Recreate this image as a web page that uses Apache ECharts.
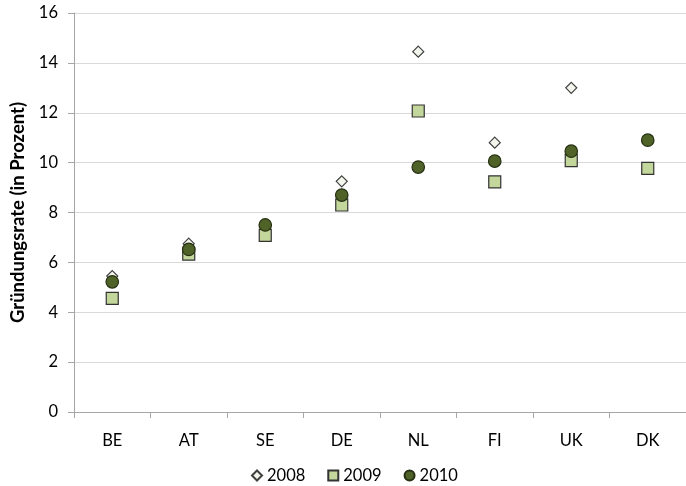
<!DOCTYPE html>
<html>
<head>
<meta charset="utf-8">
<script src="https://cdn.jsdelivr.net/npm/echarts@6/dist/echarts.min.js"></script>
<style>html,body{margin:0;padding:0;background:#fff}#c{width:686px;height:486px}</style>
</head>
<body>
<div id="c"></div>
<script>
const categories = ['BE','AT','SE','DE','NL','FI','UK','DK'];
const s2008 = [5.45, 6.75, 7.5, 9.25, 14.45, 10.8, 13.0, null];
const s2009 = [4.56, 6.33, 7.08, 8.3, 12.07, 9.23, 10.08, 9.77];
const s2010 = [5.22, 6.52, 7.5, 8.7, 9.82, 10.06, 10.46, 10.9];
const yTicks = {min: 0, max: 16, interval: 2};

const font = 'Lato, "Open Sans", sans-serif';
const chart = echarts.init(document.getElementById('c'));
chart.setOption({
  animation: false,
  textStyle: {fontFamily: font},
  grid: {left: 74, top: 13, bottom: 74, right: -6, containLabel: false},
  legend: {
    bottom: -3, left: 246, itemGap: 22, itemWidth: 10, itemHeight: 10,
    textStyle: {fontSize: 16.5, color: '#000', fontFamily: font},
    data: [
      {name: '2008', icon: 'diamond'},
      {name: '2009', icon: 'rect'},
      {name: '2010', icon: 'circle'}
    ]
  },
  xAxis: {
    type: 'category', data: categories, boundaryGap: true,
    axisLine: {lineStyle: {color: '#a6a6a6'}},
    axisTick: {show: true, length: 6, lineStyle: {color: '#a6a6a6'}},
    axisLabel: {fontSize: 16.5, color: '#000', margin: 20}
  },
  yAxis: {
    type: 'value', min: yTicks.min, max: yTicks.max, interval: yTicks.interval,
    name: 'Gründungsrate (in Prozent)', nameLocation: 'middle', nameGap: 44,
    nameTextStyle: {fontSize: 18.5, fontWeight: 'bold', color: '#000', fontFamily: font},
    axisLine: {show: true, lineStyle: {color: '#a6a6a6'}},
    axisTick: {show: true, length: 6, lineStyle: {color: '#a6a6a6'}},
    axisLabel: {fontSize: 16.5, color: '#000', margin: 16},
    splitLine: {lineStyle: {color: '#d9d9d9'}}
  },
  series: [
    {name: '2008', type: 'scatter', data: s2008, symbol: 'diamond', symbolSize: 11, z: 1,
     itemStyle: {color: '#f3f6ec', borderColor: '#3f3f3f', borderWidth: 1.2, opacity: 1}},
    {name: '2009', type: 'scatter', data: s2009, symbol: 'rect', symbolSize: 12, z: 2,
     itemStyle: {color: '#c3d69b', borderColor: '#333', borderWidth: 1.2, opacity: 1}},
    {name: '2010', type: 'scatter', data: s2010, symbol: 'circle', symbolSize: 12.5, z: 3,
     itemStyle: {color: '#4f6228', borderColor: '#263013', borderWidth: 1.2, opacity: 1}}
  ]
});
</script>
</body>
</html>
